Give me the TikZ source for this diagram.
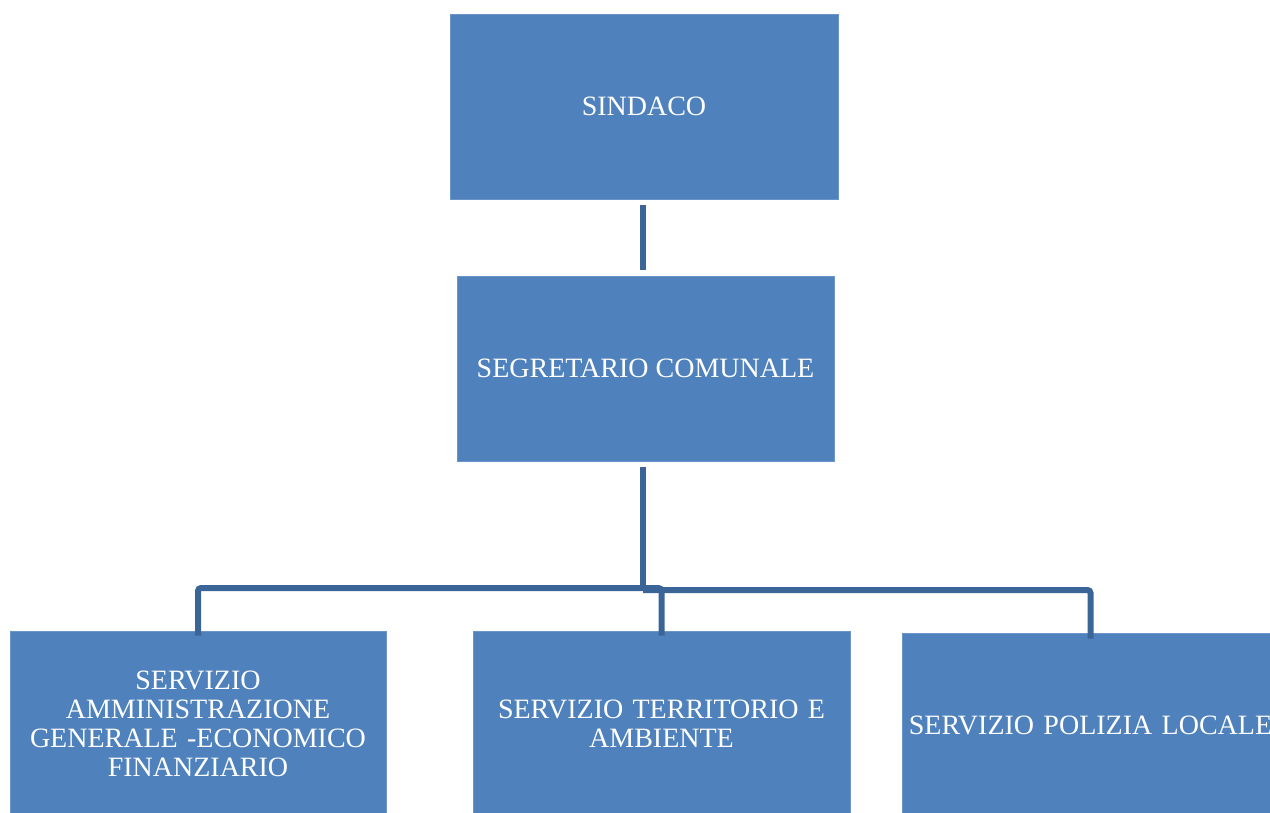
\documentclass[tikz,border=0pt]{standalone}
\usepackage{fontspec}
\setmainfont{Liberation Serif}
\definecolor{boxfill}{HTML}{4F81BD}
\definecolor{boxedge}{HTML}{6A95C8}
\definecolor{linkcol}{HTML}{3C6597}
\begin{document}
\begin{tikzpicture}[x=1pt,y=-1pt,
  orgbox/.style={rectangle, fill=boxfill, draw=boxedge, line width=0.8pt, text=white,
    inner sep=0pt, align=center, font=\fontsize{28}{29}\selectfont},
  conn/.style={draw=linkcol, line width=6pt, rounded corners=3pt}]
\useasboundingbox (0,0) rectangle (1270,812);
\clip (0,0) rectangle (1270,812);
\node[orgbox, minimum width=388pt, minimum height=185pt] (sind) at (644,106.5) {SINDACO};
\node[orgbox, minimum width=377pt, minimum height=185pt] (segr) at (645.5,368.5) {SEGRETARIO COMUNALE};
\node[orgbox, minimum width=376pt, minimum height=185pt, text width=360pt] (b1) at (198,723.5) {SERVIZIO\\AMMINISTRAZIONE\\GENERALE -ECONOMICO\\FINANZIARIO};
\node[orgbox, minimum width=377pt, minimum height=185pt, text width=360pt] (b2) at (661.5,723.5) {SERVIZIO TERRITORIO E\\AMBIENTE};
\node[orgbox, minimum width=377pt, minimum height=185pt, text width=370pt] (b3) at (1090.5,725.5) {SERVIZIO POLIZIA LOCALE};
\coordinate (busA) at (643,588);
\coordinate (busB) at (643,590);
\draw[conn] ([yshift=-6pt]sind.south -| busA) -- ([yshift=6pt]segr.north -| busA);
\draw[conn] ([yshift=-6pt]segr.south -| busA) -- (busB);
\draw[conn] ([yshift=-5pt]b1.north) |- (b2.north |- busA) -- ([yshift=-5pt]b2.north);
\draw[conn] (busB) -| ([yshift=-6pt]b3.north);
\end{tikzpicture}
\end{document}
